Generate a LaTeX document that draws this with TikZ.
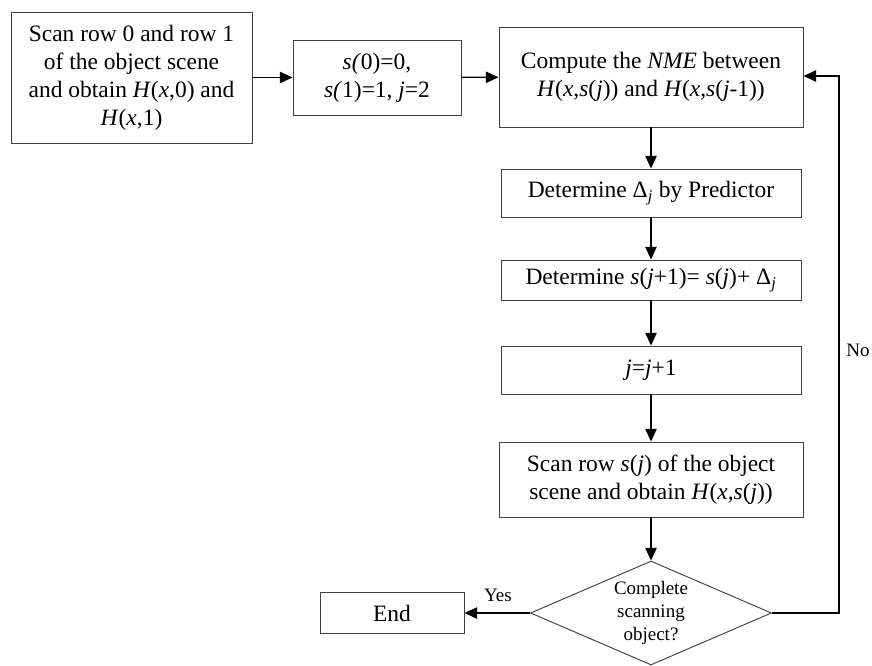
\documentclass[tikz,border=0pt]{standalone}
\usepackage{fontspec}
\setmainfont{Liberation Serif}
\usetikzlibrary{shapes.geometric,arrows.meta}
\begin{document}
\begin{tikzpicture}[x=0.75pt,y=-0.75pt,
  box/.style={draw=black!75,line width=0.7pt,rectangle,inner sep=0pt,align=center,
    font=\fontsize{17.6pt}{21pt}\selectfont},
  dia/.style={draw=black!75,line width=0.7pt,diamond,inner sep=0pt,
    minimum width=180.75pt,minimum height=78pt},
  small/.style={inner sep=0pt,align=center,font=\fontsize{14.25pt}{17pt}\selectfont},
  arr/.style={line width=1pt,-{Triangle[length=9.5pt,width=8.5pt]}}]
\useasboundingbox (0,0) rectangle (872,666);
\node[box,minimum width=180.75pt,minimum height=98.25pt] (a) at (131.5,77.5)
  {Scan row 0 and row 1\\of the object scene\\and obtain \textit{H}(\textit{x},0) and\\\textit{H}(\textit{x},1)};
\node[box,minimum width=126pt,minimum height=56.25pt] (b) at (377,77.5)
  {\textit{s(}0)=0,\\\textit{s(}1)=1, \textit{j}=2};
\node[box,minimum width=228pt,minimum height=75pt] (c) at (651,77)
  {Compute the \textit{NME} between\\\textit{H}(\textit{x},\textit{s}(\textit{j})) and \textit{H}(\textit{x},\textit{s}(\textit{j}-1))};
\node[box,minimum width=225pt,minimum height=36pt] (d) at (651,193)
  {Determine Δ\textsubscript{\textit{j}} by Predictor};
\node[box,minimum width=225pt,minimum height=30pt] (e) at (651,280)
  {Determine \textit{s}(\textit{j}+1)= \textit{s}(\textit{j})+ Δ\textsubscript{\textit{j}}};
\node[box,minimum width=225pt,minimum height=36pt] (f) at (651,370)
  {\textit{j}=\textit{j}+1};
\node[box,minimum width=228pt,minimum height=56.25pt] (g) at (651,479.5)
  {Scan row \textit{s}(\textit{j}) of the object\\scene and obtain \textit{H}(\textit{x},\textit{s}(\textit{j}))};
\node[dia] (h) at (651,613) {};
\node[small] (ht) at (h.center) {Complete\\scanning\\object?};
\node[box,minimum width=108pt,minimum height=30.75pt] (end) at (392,613) {End};
\node[small] (yes) at (498,595) {Yes};
\node[small] (no) at (858,350) {No};
\coordinate (r1) at (839,613);
\coordinate (r2) at (839,76);
\draw[arr] (a) -- (b);
\draw[arr] (b) -- (c);
\draw[arr] (c) -- (d);
\draw[arr] (d) -- (e);
\draw[arr] (e) -- (f);
\draw[arr] (f) -- (g);
\draw[arr] (g) -- (h);
\draw[arr] (h) -- (end);
\draw[arr] (h.east) -- (r1) -- (r2) -- (r2 -| c.east);
\end{tikzpicture}
\end{document}
